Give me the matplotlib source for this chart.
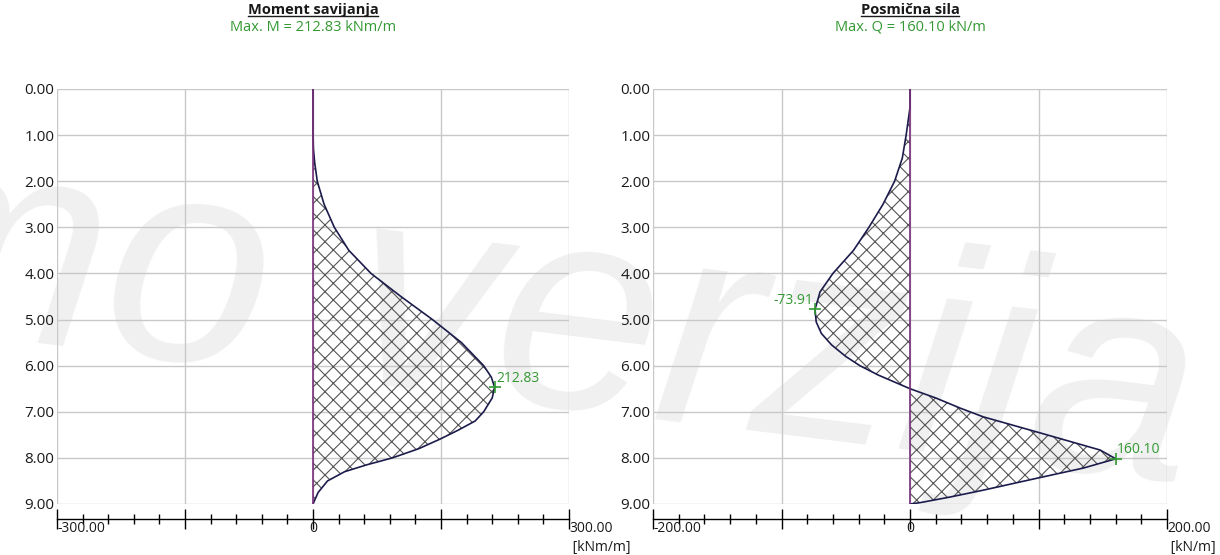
import matplotlib.pyplot as plt
from matplotlib.lines import Line2D
from matplotlib.ticker import MultipleLocator, FormatStrFormatter
from matplotlib.transforms import IdentityTransform

plt.rcParams['font.family'] = ['Open Sans', 'DejaVu Sans']
plt.rcParams['hatch.linewidth'] = 0.8

# ------------------------------------------------------------------------------------------------------------------
#  data (depth [m] vs. internal force)
# ------------------------------------------------------------------------------------------------------------------
depth_m = [0.0, 0.95, 1.3, 1.6, 2.0, 2.5, 3.0, 3.5, 4.0, 4.5, 5.0, 5.5, 6.0, 6.25, 6.47, 6.7, 7.0, 7.2, 7.4,
           7.6, 7.8, 8.0, 8.15, 8.3, 8.5, 8.75, 9.0]
moment = [0.0, 0.0, 0.5, 2.0, 5.0, 13.0, 25.0, 42.0, 68.0, 103.0, 140.0, 174.0, 200.0, 209.0, 212.83, 210.0,
          200.0, 190.0, 170.0, 148.0, 124.0, 93.0, 63.0, 37.0, 17.0, 6.0, 0.0]

depth_q = [0.0, 0.4, 1.0, 1.5, 2.0, 2.5, 3.0, 3.5, 4.0, 4.4, 4.78, 5.05, 5.3, 5.55, 5.8, 6.0, 6.2, 6.38, 6.5,
           6.7, 6.92, 7.11, 7.44, 7.83, 8.02, 8.22, 8.44, 8.7, 8.85, 8.97, 9.0]
shear = [0.0, 0.0, -3.0, -6.0, -12.0, -21.0, -32.0, -44.0, -60.0, -70.0, -73.91, -73.0, -69.0, -61.0, -50.0,
         -39.0, -25.0, -10.0, 0.0, 20.0, 39.0, 57.0, 99.0, 148.0, 160.10, 135.0, 99.0, 57.0, 31.0, 8.0, 0.0]

# extreme values shown on the diagrams: (value, depth, label side)
peaks_m = [(212.83, 6.47, "right")]
peaks_q = [(-73.91, 4.78, "left"), (160.10, 8.02, "right")]

titles = ["Moment savijanja", "Posmična sila"]
subtitles = ["Max. M = 212.83 kNm/m", "Max. Q = 160.10 kN/m"]
units = ["[kNm/m]", "[kN/m]"]
x_limits = [300.0, 200.0]
depth_ticks = [0, 1, 2, 3, 4, 5, 6, 7, 8, 9]

GREEN = "#339933"
GRID = "#c8c8c8"


def draw_panel(ax, depth, values, peaks, xmax, title, subtitle, unit):
    ax.set_facecolor("none")
    ax.set_xlim(-xmax, xmax)
    ax.set_ylim(9, 0)

    # axis decoration
    for side in ["left", "right", "top"]:
        ax.spines[side].set_visible(False)
    ax.spines["bottom"].set_position(("outward", 10.8))
    ax.spines["bottom"].set_linewidth(1.0)
    ax.xaxis.set_major_locator(MultipleLocator(xmax / 2))
    ax.xaxis.set_minor_locator(MultipleLocator(xmax / 10))
    ax.tick_params(axis="x", which="major", direction="inout", length=13.7, width=1.0, labelbottom=False)
    ax.tick_params(axis="x", which="minor", direction="inout", length=6.5, width=1.0)
    ax.set_yticks(depth_ticks)
    ax.yaxis.set_major_formatter(FormatStrFormatter("%.2f"))
    ax.tick_params(axis="y", length=0, pad=2, labelsize=11, labelcolor="#1a1a1a")
    ax.grid(True, which="major", color=GRID, linewidth=1.0)
    ax.set_axisbelow(True)

    # diagram
    ax.fill_betweenx(depth, 0, values, facecolor="none", edgecolor="#555555", linewidth=0, hatch="xx", zorder=2)
    ax.plot(values, depth, color="#1c1c4c", linewidth=1.2, zorder=3)
    ax.plot([0, 0], [0, 9], color="#7a2f7a", linewidth=1.2, zorder=4)

    # extreme values
    for val, z, side in peaks:
        ax.plot(val, z, marker="+", color=GREEN, markersize=9, mew=1.2, zorder=5)
        ha = "left" if side == "right" else "right"
        ax.annotate(f"{val:.2f}", (val, z), xytext=(1 if side == "right" else -1, 1), textcoords="offset points",
                    ha=ha, va="bottom", color=GREEN, fontsize=10, zorder=5)

    # bottom axis labels
    tr = ax.get_xaxis_transform()
    ax.text(-xmax, -0.040, f"-{xmax:.2f}", transform=tr, ha="left", va="top", fontsize=10, color="#1a1a1a")
    ax.text(0, -0.040, "0", transform=tr, ha="center", va="top", fontsize=10, color="#1a1a1a")
    ax.text(xmax, -0.040, f"{xmax:.2f}", transform=tr, ha="left", va="top", fontsize=10, color="#1a1a1a")
    ax.text(xmax, -0.086, " " + unit, transform=tr, ha="left", va="top", fontsize=10, color="#1a1a1a")

    # titles
    t = ax.text(0, 1.19, title, transform=tr, ha="center", va="center", fontsize=10.5, fontweight="bold",
                color="#1a1a1a")
    ax.text(0, 1.149, subtitle, transform=tr, ha="center", va="center", fontsize=10.5, color=GREEN)
    return t


fig = plt.figure(figsize=(12.2, 5.55), dpi=100)
fig.patch.set_facecolor("white")

# watermark in the background
fig.text(0.972, 0.128, "Demo verzija", fontsize=212, style="italic", family=["Liberation Sans", "DejaVu Sans"],
         color="#f0f0f0", rotation=-7, rotation_mode="anchor", ha="right", va="baseline", zorder=-5)

ax_m = fig.add_axes([57 / 1220, 1 - 504 / 555, 512 / 1220, 415 / 555])
ax_q = fig.add_axes([653 / 1220, 1 - 504 / 555, 514 / 1220, 415 / 555])

title_texts = [
    draw_panel(ax_m, depth_m, moment, peaks_m, x_limits[0], titles[0], subtitles[0], units[0]),
    draw_panel(ax_q, depth_q, shear, peaks_q, x_limits[1], titles[1], subtitles[1], units[1]),
]

# underline the titles
fig.canvas.draw()
renderer = fig.canvas.get_renderer()
for t in title_texts:
    bb = t.get_window_extent(renderer)
    fig.add_artist(Line2D([bb.x0, bb.x1], [bb.y0 + 1, bb.y0 + 1], transform=IdentityTransform(),
                          color="#1a1a1a", linewidth=1.0))

fig.savefig("out.png", dpi=100)
